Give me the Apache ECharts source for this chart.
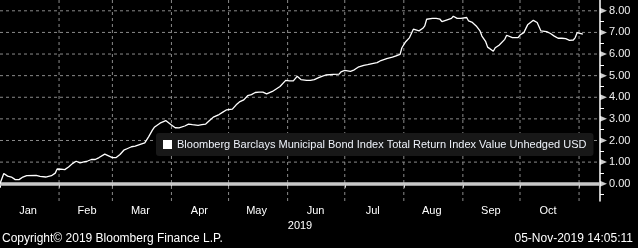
<!DOCTYPE html>
<html><head><meta charset="utf-8">
<script src="https://cdn.jsdelivr.net/npm/echarts@6/dist/echarts.min.js"></script>
<style>html,body{margin:0;padding:0;background:#000;}#c{width:638px;height:248px;}</style>
</head><body><div id="c"></div>
<script>
const dates = ['2019-01-01','2019-01-02','2019-01-03','2019-01-05','2019-01-07','2019-01-09','2019-01-11','2019-01-13','2019-01-15','2019-01-20','2019-01-22','2019-01-25','2019-01-28','2019-01-30','2019-01-31',
'2019-02-02','2019-02-04','2019-02-06','2019-02-08','2019-02-10','2019-02-12','2019-02-14','2019-02-16','2019-02-18','2019-02-20','2019-02-22','2019-02-25','2019-02-26',
'2019-03-01','2019-03-03','2019-03-05','2019-03-07','2019-03-09','2019-03-11','2019-03-13','2019-03-16','2019-03-18','2019-03-20','2019-03-22','2019-03-23','2019-03-26','2019-03-27','2019-03-29','2019-03-30',
'2019-04-01','2019-04-03','2019-04-05','2019-04-08','2019-04-10','2019-04-12','2019-04-15','2019-04-17','2019-04-19','2019-04-21','2019-04-23','2019-04-26','2019-04-28','2019-04-30',
'2019-05-01','2019-05-03','2019-05-05','2019-05-07','2019-05-09','2019-05-10','2019-05-11','2019-05-13','2019-05-15','2019-05-17','2019-05-19','2019-05-21','2019-05-22','2019-05-24','2019-05-25','2019-05-28','2019-05-29','2019-05-31',
'2019-06-02','2019-06-04','2019-06-06','2019-06-08','2019-06-11','2019-06-13','2019-06-15','2019-06-17','2019-06-19','2019-06-21','2019-06-22','2019-06-25','2019-06-28','2019-06-29',
'2019-07-01','2019-07-02','2019-07-04','2019-07-06','2019-07-08','2019-07-11','2019-07-13','2019-07-16','2019-07-18','2019-07-20','2019-07-23','2019-07-26','2019-07-28','2019-07-30','2019-07-31',
'2019-08-02','2019-08-04','2019-08-05','2019-08-06','2019-08-07','2019-08-09','2019-08-11','2019-08-12','2019-08-13','2019-08-16','2019-08-18','2019-08-20','2019-08-21','2019-08-23','2019-08-26','2019-08-27','2019-08-29','2019-08-31',
'2019-09-03','2019-09-04','2019-09-06','2019-09-08','2019-09-10','2019-09-11','2019-09-13','2019-09-14','2019-09-15','2019-09-17','2019-09-18','2019-09-20','2019-09-21','2019-09-23','2019-09-24','2019-09-25','2019-09-27','2019-09-30',
'2019-10-01','2019-10-03','2019-10-05','2019-10-06','2019-10-08','2019-10-09','2019-10-10','2019-10-12','2019-10-13','2019-10-15','2019-10-17','2019-10-19','2019-10-21','2019-10-23','2019-10-25','2019-10-27','2019-10-29','2019-10-30','2019-10-31',
'2019-11-01','2019-11-03'];
const values = [0.00,0.08,0.47,0.35,0.31,0.19,0.19,0.31,0.37,0.39,0.34,0.31,0.37,0.49,0.68,
0.67,0.65,0.77,0.93,1.04,0.96,1.01,1.05,1.12,1.12,1.21,1.37,1.31,
1.21,1.21,1.35,1.55,1.63,1.71,1.74,1.83,1.89,2.17,2.48,2.61,2.80,2.86,2.92,2.89,
2.72,2.59,2.58,2.67,2.76,2.73,2.70,2.73,2.76,2.92,3.08,3.20,3.31,3.42,
3.45,3.45,3.65,3.80,3.88,3.96,4.07,4.12,4.22,4.24,4.24,4.16,4.20,4.27,4.35,4.50,4.58,4.78,
4.76,4.76,4.97,4.82,4.78,4.78,4.82,4.90,4.97,5.03,5.06,5.06,5.07,5.17,
5.24,5.27,5.20,5.27,5.39,5.48,5.51,5.57,5.60,5.70,5.79,5.86,5.92,5.98,6.29,
6.57,6.76,6.83,7.15,7.07,7.07,7.19,7.30,7.61,7.65,7.65,7.61,7.50,7.56,7.65,7.75,7.65,7.65,
7.69,7.53,7.46,7.30,7.07,6.83,6.57,6.32,6.23,6.13,6.29,6.41,6.48,6.68,6.87,6.78,6.76,6.76,
6.88,6.99,7.35,7.43,7.56,7.61,7.46,7.07,7.07,7.04,6.95,6.83,6.73,6.73,6.71,6.63,6.65,6.76,6.99,
6.96,6.92];
const monthLabels = ['Jan','Feb','Mar','Apr','May','Jun','Jul','Aug','Sep','Oct'];
const monthStarts = ['2019-02-01','2019-03-01','2019-04-01','2019-05-01','2019-06-01','2019-07-01','2019-08-01','2019-09-01','2019-10-01','2019-11-01'];
const yTicks = [0,1,2,3,4,5,6,7,8];
const seriesName = 'Bloomberg Barclays Municipal Bond Index Total Return Index Value Unhedged USD';
const yearLabel = '2019';
const copyright = 'Copyright\u00a9 2019 Bloomberg Finance L.P.';
const stamp = '05-Nov-2019 14:05:11';
const xMin = '2019-01-01', xMax = '2019-11-12';
const yMin = -0.8, yMax = 8.5;

const DAY = 86400000;
const font = 'Liberation Sans';
const chart = echarts.init(document.getElementById('c'));

const gridLineStyle = {color: '#8a8a8a', width: 1, type: [3, 3]};
const gridSeries = []
  .concat(yTicks.filter(v => v !== 0).map(v => [[xMin, v], [xMax, v]]))
  .concat(monthStarts.map(m => [[m, yMin], [m, yMax]]))
  .map(pts => ({
    type: 'line', data: pts, silent: true, symbol: 'none', showSymbol: false,
    lineStyle: gridLineStyle, z: 1, animation: false, tooltip: {show: false}
  }));

const option = {
  backgroundColor: '#000',
  animation: false,
  grid: {left: 0, right: 38, top: 0, bottom: 47},
  title: [
    {text: copyright, left: 0, top: 231, padding: [2, 2], textStyle: {color: '#fff', fontSize: 12, fontWeight: 'normal', fontFamily: font}},
    {text: stamp, right: 3, top: 231, padding: [2, 2], textStyle: {color: '#fff', fontSize: 12, fontWeight: 'normal', fontFamily: font}}
  ],
  legend: {
    data: [seriesName], left: 156, top: 133, backgroundColor: '#181818', borderRadius: 3,
    padding: [6, 7, 6, 7], icon: 'rect', itemWidth: 9, itemHeight: 9, selectedMode: false,
    textStyle: {color: '#eef2fa', fontSize: 11, fontFamily: font}
  },
  xAxis: {
    type: 'time', min: xMin, max: xMax, splitNumber: 11,
    minInterval: 28 * DAY, maxInterval: 31 * DAY,
    axisLine: {show: true, lineStyle: {color: '#fff', width: 1.5}},
    axisTick: {show: true, length: 4, lineStyle: {color: '#fff'}},
    axisLabel: {
      color: '#fff', fontSize: 11, fontFamily: font, margin: 4, padding: [0, 0, 0, 56],
      formatter: function (v) {
        const d = new Date(v);
        if (d.getDate() !== 1 || d.getMonth() >= monthLabels.length) return '';
        return monthLabels[d.getMonth()];
      }
    },
    splitLine: {show: false},
    name: yearLabel, nameLocation: 'middle', nameGap: 16,
    nameTextStyle: {color: '#fff', fontSize: 11, fontFamily: font}
  },
  yAxis: {
    type: 'value', position: 'right', min: yMin, max: yMax, splitNumber: 9,
    axisLine: {show: true, onZero: false, lineStyle: {color: '#fff', width: 1.5}},
    axisTick: {show: false},
    minorTick: {show: true, splitNumber: 2, length: 4, lineStyle: {color: '#fff'}},
    axisLabel: {
      color: '#f0f0f0', fontSize: 11, fontFamily: font, margin: 9,
      formatter: function (v) { return Math.abs(v - Math.round(v)) < 1e-6 && v >= 0 ? v.toFixed(2) : ''; }
    },
    splitLine: {show: false}
  },
  series: gridSeries.concat([
    {
      type: 'scatter', name: 'ticks', data: yTicks.map(v => [xMax, v]),
      symbol: 'triangle', symbolSize: [6, 7], symbolRotate: -90, symbolOffset: [3.5, 0],
      clip: false, silent: true, itemStyle: {color: '#fff'}, z: 5
    },
    {
      type: 'line', name: seriesName, data: dates.map((d, i) => [d, values[i]]),
      showSymbol: false, symbol: 'none', lineStyle: {color: '#fff', width: 1.3}, itemStyle: {color: '#fff'},
      z: 4,
      markLine: {
        silent: true, symbol: 'none', label: {show: false}, z: 3,
        lineStyle: {color: '#c8c8c8', width: 3.5, type: 'solid'},
        data: [{yAxis: 0}]
      }
    }
  ])
};
chart.setOption(option);
</script>
</body></html>
